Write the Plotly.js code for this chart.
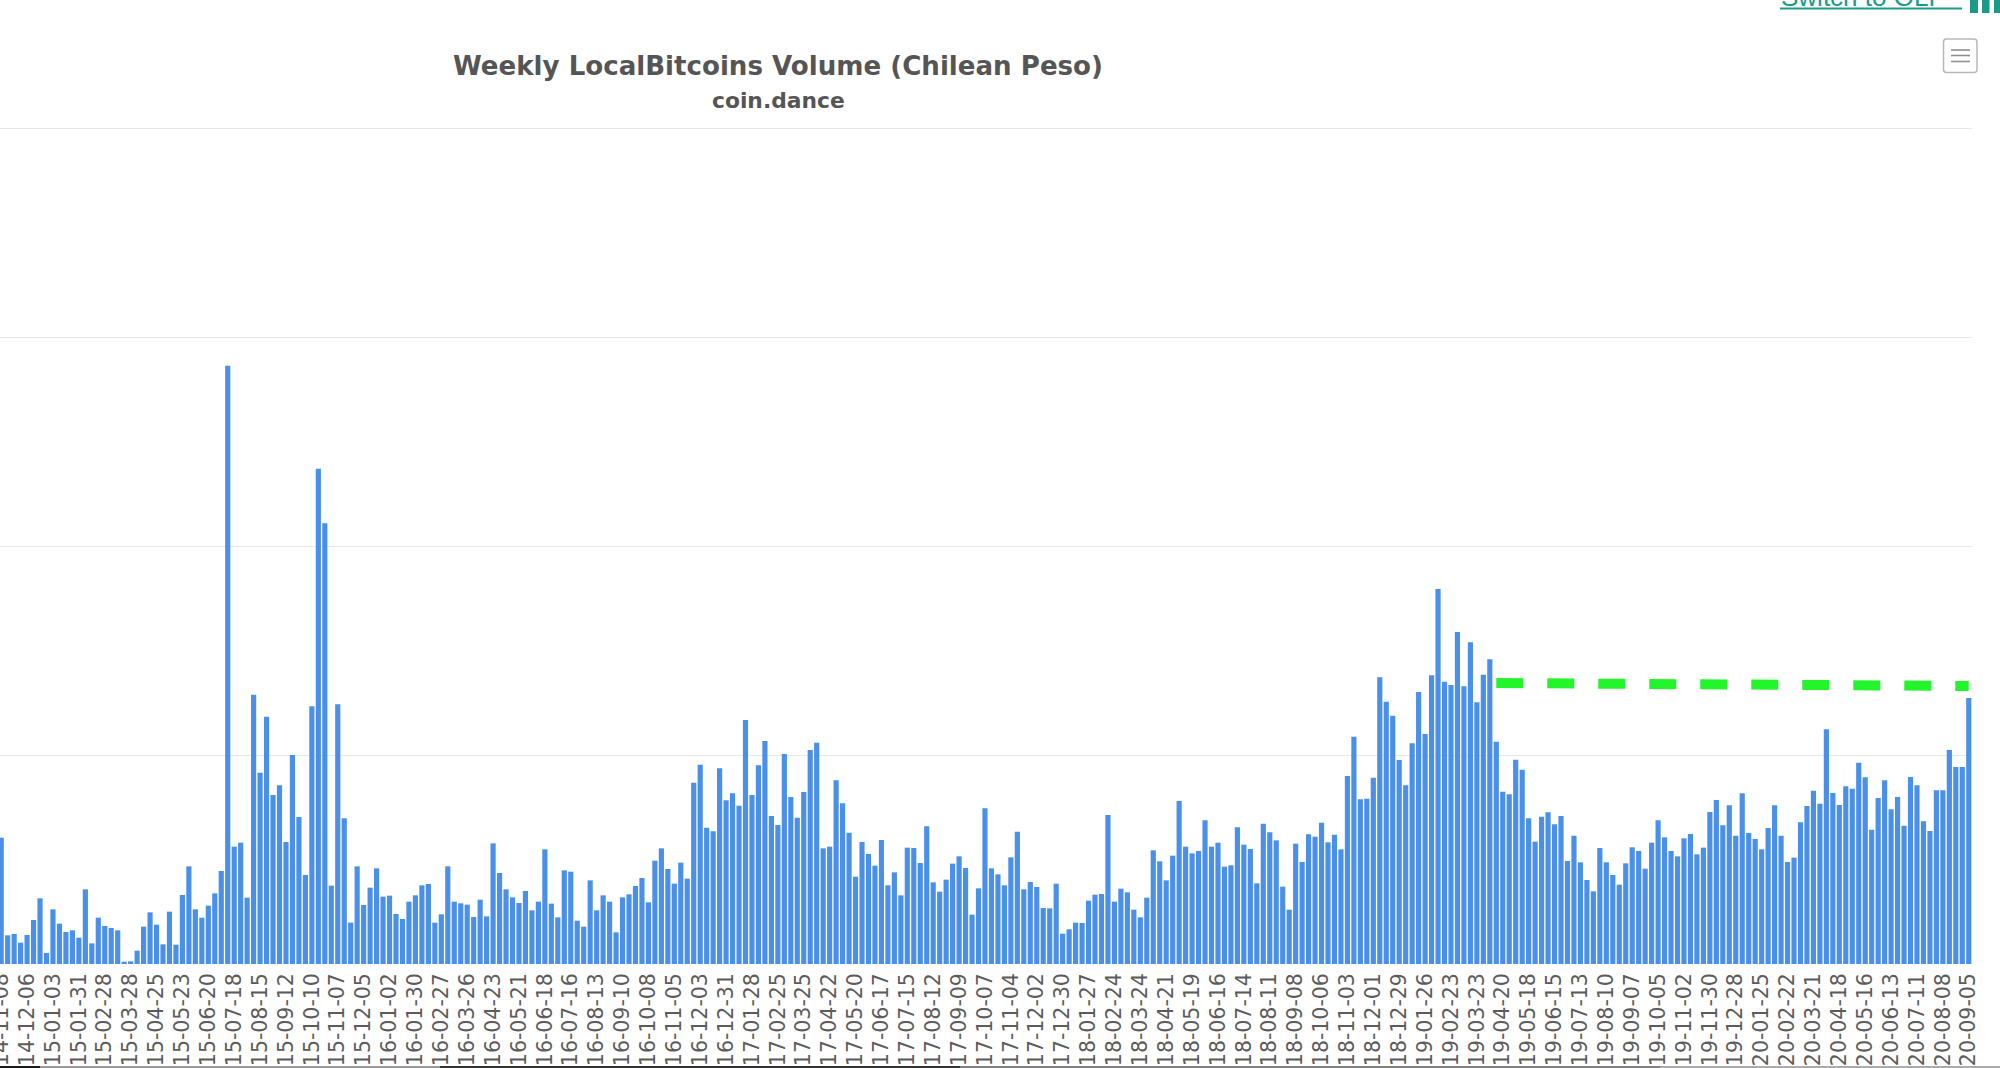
<!DOCTYPE html>
<html>
<head>
<meta charset="utf-8">
<script src="https://cdn.plot.ly/plotly-3.0.1.min.js"></script>
<style>html,body{margin:0;padding:0;background:#fff;overflow:hidden}#chart{width:2000px;height:1068px}</style>
</head>
<body>
<div id="chart"></div>
<script>
var weeks = [
"2014-11-08","2014-11-15","2014-11-22","2014-11-29","2014-12-06","2014-12-13","2014-12-20","2014-12-27",
"2015-01-03","2015-01-10","2015-01-17","2015-01-24","2015-01-31","2015-02-07","2015-02-14","2015-02-21","2015-02-28","2015-03-07","2015-03-14","2015-03-21","2015-03-28","2015-04-04","2015-04-11","2015-04-18","2015-04-25","2015-05-02","2015-05-09","2015-05-16","2015-05-23","2015-05-30","2015-06-06","2015-06-13","2015-06-20","2015-06-27","2015-07-04","2015-07-11","2015-07-18","2015-07-25","2015-08-01","2015-08-08","2015-08-15","2015-08-22","2015-08-29","2015-09-05","2015-09-12","2015-09-19","2015-09-26","2015-10-03","2015-10-10","2015-10-17","2015-10-24","2015-10-31","2015-11-07","2015-11-14","2015-11-21","2015-11-28","2015-12-05","2015-12-12","2015-12-19","2015-12-26",
"2016-01-02","2016-01-09","2016-01-16","2016-01-23","2016-01-30","2016-02-06","2016-02-13","2016-02-20","2016-02-27","2016-03-05","2016-03-12","2016-03-19","2016-03-26","2016-04-02","2016-04-09","2016-04-16","2016-04-23","2016-04-30","2016-05-07","2016-05-14","2016-05-21","2016-05-28","2016-06-04","2016-06-11","2016-06-18","2016-06-25","2016-07-02","2016-07-09","2016-07-16","2016-07-23","2016-07-30","2016-08-06","2016-08-13","2016-08-20","2016-08-27","2016-09-03","2016-09-10","2016-09-17","2016-09-24","2016-10-01","2016-10-08","2016-10-15","2016-10-22","2016-10-29","2016-11-05","2016-11-12","2016-11-19","2016-11-26","2016-12-03","2016-12-10","2016-12-17","2016-12-24","2016-12-31",
"2017-01-07","2017-01-14","2017-01-21","2017-01-28","2017-02-04","2017-02-11","2017-02-18","2017-02-25","2017-03-04","2017-03-11","2017-03-18","2017-03-25","2017-04-01","2017-04-08","2017-04-15","2017-04-22","2017-04-29","2017-05-06","2017-05-13","2017-05-20","2017-05-27","2017-06-03","2017-06-10","2017-06-17","2017-06-24","2017-07-01","2017-07-08","2017-07-15","2017-07-22","2017-07-29","2017-08-05","2017-08-12","2017-08-19","2017-08-26","2017-09-02","2017-09-09","2017-09-16","2017-09-23","2017-09-30","2017-10-07","2017-10-14","2017-10-21","2017-10-28","2017-11-04","2017-11-11","2017-11-18","2017-11-25","2017-12-02","2017-12-09","2017-12-16","2017-12-23","2017-12-30",
"2018-01-06","2018-01-13","2018-01-20","2018-01-27","2018-02-03","2018-02-10","2018-02-17","2018-02-24","2018-03-03","2018-03-10","2018-03-17","2018-03-24","2018-03-31","2018-04-07","2018-04-14","2018-04-21","2018-04-28","2018-05-05","2018-05-12","2018-05-19","2018-05-26","2018-06-02","2018-06-09","2018-06-16","2018-06-23","2018-06-30","2018-07-07","2018-07-14","2018-07-21","2018-07-28","2018-08-04","2018-08-11","2018-08-18","2018-08-25","2018-09-01","2018-09-08","2018-09-15","2018-09-22","2018-09-29","2018-10-06","2018-10-13","2018-10-20","2018-10-27","2018-11-03","2018-11-10","2018-11-17","2018-11-24","2018-12-01","2018-12-08","2018-12-15","2018-12-22","2018-12-29",
"2019-01-05","2019-01-12","2019-01-19","2019-01-26","2019-02-02","2019-02-09","2019-02-16","2019-02-23","2019-03-02","2019-03-09","2019-03-16","2019-03-23","2019-03-30","2019-04-06","2019-04-13","2019-04-20","2019-04-27","2019-05-04","2019-05-11","2019-05-18","2019-05-25","2019-06-01","2019-06-08","2019-06-15","2019-06-22","2019-06-29","2019-07-06","2019-07-13","2019-07-20","2019-07-27","2019-08-03","2019-08-10","2019-08-17","2019-08-24","2019-08-31","2019-09-07","2019-09-14","2019-09-21","2019-09-28","2019-10-05","2019-10-12","2019-10-19","2019-10-26","2019-11-02","2019-11-09","2019-11-16","2019-11-23","2019-11-30","2019-12-07","2019-12-14","2019-12-21","2019-12-28",
"2020-01-04","2020-01-11","2020-01-18","2020-01-25","2020-02-01","2020-02-08","2020-02-15","2020-02-22","2020-02-29","2020-03-07","2020-03-14","2020-03-21","2020-03-28","2020-04-04","2020-04-11","2020-04-18","2020-04-25","2020-05-02","2020-05-09","2020-05-16","2020-05-23","2020-05-30","2020-06-06","2020-06-13","2020-06-20","2020-06-27","2020-07-04","2020-07-11","2020-07-18","2020-07-25","2020-08-01","2020-08-08","2020-08-15","2020-08-22","2020-08-29","2020-09-05"
];
// The y-axis labels are cropped out of the reference, so volumes are in relative units (one gridline = 627).
var volume = [
379,86,90,64,87,132,197,33,164,121,96,101,79,224,62,139,114,108,101,7,8,40,112,155,118,59,157,58,207,293,
164,139,175,212,279,1795,352,364,199,808,574,742,507,536,366,627,441,267,773,1486,1322,235,779,437,124,293,177,229,287,202,
205,150,135,187,206,236,240,124,149,293,187,182,178,141,193,143,362,273,224,200,183,219,161,187,344,181,140,281,277,130,
112,251,161,206,187,95,200,209,234,258,185,310,347,285,241,304,256,544,598,409,398,587,491,512,475,732,507,596,669,444,
417,630,501,439,516,642,664,347,352,551,482,394,262,366,330,295,372,236,275,206,349,348,303,413,245,217,253,301,323,288,
148,227,467,287,269,236,320,397,224,246,231,168,167,241,91,104,124,123,190,208,210,447,187,226,215,163,140,199,341,308,
251,325,489,352,332,339,431,352,364,292,296,410,358,345,242,421,395,371,232,163,361,306,389,382,424,365,388,344,564,682,
494,496,559,860,787,745,612,536,662,816,690,866,1125,847,837,996,833,965,785,868,914,667,517,509,613,583,437,367,442,455,
419,444,309,385,305,252,218,348,305,267,238,302,350,339,286,364,431,380,339,323,377,390,329,349,456,492,416,476,385,512,
393,375,344,408,476,385,306,319,425,474,520,481,704,513,477,533,526,604,560,403,498,551,464,501,415,561,536,428,399,521,
521,642,591,591,798
];
var trendWeeks = ["2019-04-13","2020-09-05"];
var trendValues = [843,834];
var tickWeeks = weeks.filter(function(d,i){return i%4===0;});
var tickLabels = tickWeeks.map(function(d){return d.slice(2);});

var W=2000,H=1068,PL=0,PR=1972,PT=118,PB=964;
var Y_TOP=2508*(PB-PT)/836;
function fx(px){return (px-PL)/(PR-PL);}
function fy(py){return (PB-py)/(PB-PT);}
function box(x0,y0,x1,y1,fill){return {type:'rect',xref:'paper',yref:'paper',x0:fx(x0),x1:fx(x1),y0:fy(y0),y1:fy(y1),fillcolor:fill,line:{width:0},layer:'above'};}
function seg(x0,y0,x1,y1,color,w){return {type:'line',xref:'paper',yref:'paper',x0:fx(x0),x1:fx(x1),y0:fy(y0),y1:fy(y1),line:{color:color,width:w},layer:'above'};}
function rounded(x0,y0,x1,y1,r,stroke){
  function p(x,y){return fx(x)+' '+fy(y);}
  return {type:'path',xref:'paper',yref:'paper',layer:'above',fillcolor:'#ffffff',line:{color:stroke,width:1.5},
    path:'M'+p(x0+r,y0)+'L'+p(x1-r,y0)+'Q'+p(x1,y0)+' '+p(x1,y0+r)+'L'+p(x1,y1-r)+'Q'+p(x1,y1)+' '+p(x1-r,y1)+'L'+p(x0+r,y1)+'Q'+p(x0,y1)+' '+p(x0,y1-r)+'L'+p(x0,y0+r)+'Q'+p(x0,y0)+' '+p(x0+r,y0)+'Z'};
}

var teal='#1a9b8a';
var shapes=[
 // "Switch to OLP" underline and the teal bars beside it
 seg(1780,8.5,1962,8.5,teal,2.2),
 box(1970,-2,1978,13,teal),box(1982,-2,1989.5,13,teal),box(1994,-2,2002,13,teal),
 // context-menu button
 rounded(1943.5,39,1977,72.5,3,'#b8b8b8'),
 seg(1951,50,1970,50,'#8f8f8f',1.6),seg(1951,55.5,1970,55.5,'#8f8f8f',1.6),seg(1951,61.5,1970,61.5,'#8f8f8f',1.6),
 // window edge along the bottom of the screenshot
 box(0,1066,40,1069,'#1a1a1a'),box(40,1066,440,1069,'#999999'),box(440,1066,960,1069,'#333333'),box(960,1066,1660,1069,'#808080'),box(1660,1066,2001,1069,'#ababab')
];

Plotly.newPlot('chart',[
 {type:'bar',x:weeks,y:volume,marker:{color:'#4a90e9',line:{width:0}},hoverinfo:'x+y',showlegend:false},
 {type:'scatter',mode:'lines',x:trendWeeks,y:trendValues,line:{color:'#22f52a',width:10,dash:'27px,24px'},hoverinfo:'skip',showlegend:false}
],{
 width:W,height:H,
 paper_bgcolor:'#ffffff',plot_bgcolor:'#ffffff',
 margin:{l:PL,r:W-PR,t:PT,b:H-PB,pad:0},
 bargap:0.2,
 title:{text:'<b>Weekly LocalBitcoins Volume (Chilean Peso)</b>',x:778/W,xref:'container',xanchor:'center',y:1-66/H,yref:'container',yanchor:'middle',
   font:{family:'"DejaVu Sans",sans-serif',size:26.1,color:'#555555'}},
 xaxis:{type:'category',categoryorder:'array',categoryarray:weeks,range:[-0.185,304.5],tickmode:'array',tickvals:tickWeeks,ticktext:tickLabels,
   tickangle:-90,ticks:'',ticklabelstandoff:4,showgrid:false,zeroline:false,showline:false,automargin:false,
   tickfont:{family:'"DejaVu Sans",sans-serif',size:20.5,color:'#5c5c5c'}},
 yaxis:{range:[0,Y_TOP],dtick:627,tick0:0,showticklabels:false,ticks:'',showgrid:true,gridcolor:'#e8e8e8',gridwidth:1.2,zeroline:false,showline:false,automargin:false},
 annotations:[
  {xref:'paper',yref:'paper',x:fx(778),y:fy(100),xanchor:'center',yanchor:'middle',showarrow:false,text:'<b>coin.dance</b>',
   font:{family:'"DejaVu Sans",sans-serif',size:21.8,color:'#555555'}},
  {xref:'paper',yref:'paper',x:fx(1780),y:fy(13),xanchor:'left',yanchor:'bottom',showarrow:false,text:'Switch to OLP',borderpad:0,
   font:{family:'"Liberation Sans",sans-serif',size:26,color:teal}}
 ],
 shapes:shapes,
 showlegend:false
},{displayModeBar:false,responsive:false});
</script>
</body>
</html>
